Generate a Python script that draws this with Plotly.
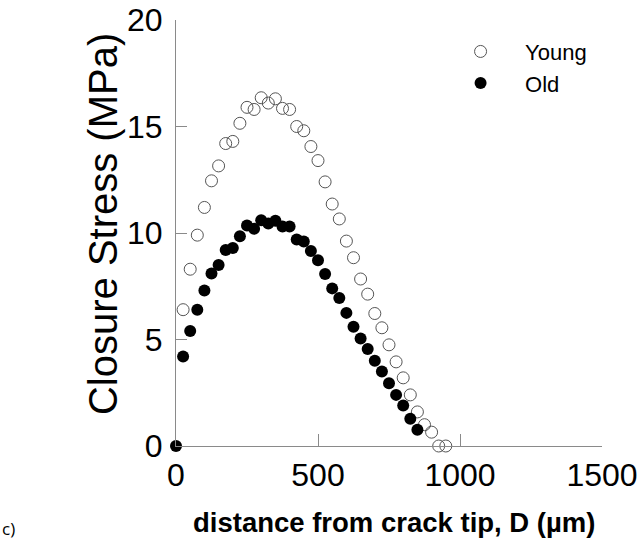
import plotly.graph_objects as go

# ---- data ----
old_d = [0, 25, 50, 75, 100, 125, 150, 175, 200, 225, 250, 275, 300, 325, 350, 375, 400,
         425, 450, 475, 500, 525, 550, 575, 600, 625, 650, 675, 700, 725, 750, 775, 800, 825, 850]
old_s = [0, 4.2, 5.4, 6.4, 7.3, 8.1, 8.5, 9.2, 9.3, 9.85, 10.35, 10.2, 10.6, 10.45, 10.58, 10.3, 10.3,
         9.7, 9.6, 9.15, 8.72, 8.08, 7.4, 6.95, 6.25, 5.6, 5.05, 4.55, 4.0, 3.5, 2.95, 2.4, 1.9, 1.28, 0.76]

young_d = [25, 50, 75, 100, 125, 150, 175, 200, 225, 250, 275, 300, 325, 350, 375, 400, 425, 450,
           475, 500, 525, 550, 575, 600, 625, 650, 675, 700, 725, 750, 775, 800, 825, 850, 875, 900, 925, 950]
young_s = [6.4, 8.3, 9.9, 11.2, 12.45, 13.15, 14.2, 14.3, 15.15, 15.9, 15.8, 16.35, 16.1, 16.3, 15.85, 15.8, 15.0, 14.8,
           14.06, 13.4, 12.4, 11.36, 10.66, 9.62, 8.84, 7.84, 7.13, 6.22, 5.55, 4.75, 3.95, 3.2, 2.4, 1.6, 1.0, 0.65, 0, 0]

x_ticks = [0, 500, 1000, 1500]
y_ticks = [0, 5, 10, 15, 20]

FONT = "Arial, Liberation Sans, sans-serif"
NB = "\u00a0"

fig = go.Figure()
fig.add_trace(go.Scatter(
    x=young_d, y=young_s, mode="markers", name=NB * 4 + "Young",
    marker=dict(symbol="circle-open", size=12, color="#555555", line=dict(width=1, color="#555555")),
    cliponaxis=False,
))
fig.add_trace(go.Scatter(
    x=old_d, y=old_s, mode="markers", name=NB * 4 + "Old",
    marker=dict(symbol="circle", size=12, color="#000000"),
    cliponaxis=False,
))

fig.update_layout(
    width=638, height=550,
    margin=dict(l=176, r=36, t=20, b=104, autoexpand=False),
    paper_bgcolor="white", plot_bgcolor="white",
    font=dict(family=FONT, color="black"),
    showlegend=True,
    legend=dict(x=0.668, y=0.975, xanchor="left", yanchor="top",
                font=dict(size=22, family=FONT, color="black"),
                bgcolor="rgba(0,0,0,0)", borderwidth=0),
    xaxis=dict(range=[0, 1500], tickvals=x_ticks, ticktext=[str(v) for v in x_ticks],
               automargin=False,
               showgrid=False, zeroline=False, showline=True, linecolor="#8a8a8a", linewidth=1,
               ticks="inside", ticklen=12, tickcolor="#8a8a8a", tickwidth=1,
               tickfont=dict(size=32, family=FONT, color="black"), ticklabelstandoff=1),
    yaxis=dict(range=[0, 20], tickvals=y_ticks, ticktext=[str(v) for v in y_ticks],
               automargin=False,
               showgrid=False, zeroline=False, showline=True, linecolor="#8a8a8a", linewidth=1,
               ticks="inside", ticklen=11, tickcolor="#8a8a8a", tickwidth=1,
               tickfont=dict(size=32, family=FONT, color="black"), ticklabelstandoff=6),
    annotations=[
        dict(text="Closure Stress (MPa)", textangle=-90, xref="paper", yref="paper",
             x=0, y=0.521, xanchor="center", yanchor="middle", xshift=-73, showarrow=False,
             font=dict(size=40, family=FONT, color="black")),
        dict(text="<b>distance from crack tip, D (\u00b5m)</b>", xref="paper", yref="paper",
             x=0.512, y=0, xanchor="center", yanchor="middle", yshift=-76, showarrow=False,
             font=dict(size=27.5, family=FONT, color="black")),
        dict(text="c)", xref="paper", yref="paper", x=-176 / 426, y=0, xanchor="left",
             yanchor="middle", yshift=-82, showarrow=False,
             font=dict(size=17, family="Open Sans, sans-serif", color="black")),
    ],
)

fig.write_html("out.html", config={"displayModeBar": False},
               post_script="document.body.style.margin='0px';document.body.style.padding='0px';")
